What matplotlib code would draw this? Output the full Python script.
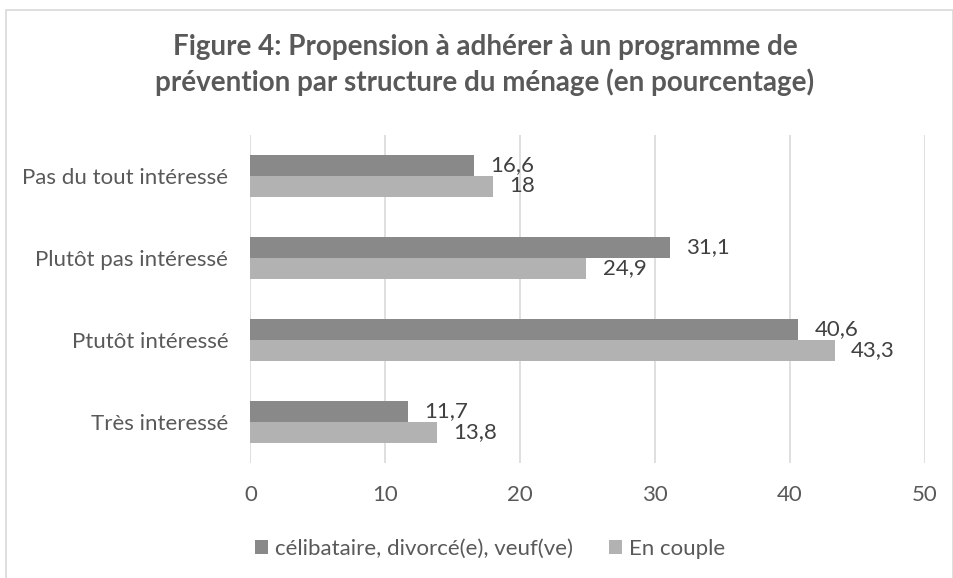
import matplotlib
matplotlib.use("Agg")
import matplotlib.pyplot as plt
import numpy as np
from matplotlib.patches import Rectangle

categories = ["Très interessé", "Ptutôt intéressé", "Plutôt pas intéressé", "Pas du tout intéressé"]
series_names = ["célibataire, divorcé(e), veuf(ve)", "En couple"]
celib = [11.7, 40.6, 31.1, 16.6]
couple = [13.8, 43.3, 24.9, 18]
celib_labels = ["11,7", "40,6", "31,1", "16,6"]
couple_labels = ["13,8", "43,3", "24,9", "18"]
xticks = [0, 10, 20, 30, 40, 50]

plt.rcParams['font.family'] = ['Lato', 'DejaVu Sans']

W, H = 954, 578
fig = plt.figure(figsize=(W/100, H/100), dpi=100)
fig.patches.append(Rectangle((6/W, -0.01), 947/W, 1.01 - 10/H, transform=fig.transFigure,
                             fill=False, edgecolor='#d9d9d9', linewidth=1.2))
ax = fig.add_axes([250.5/W, 1 - 463/H, 674.5/W, 328/H])

y = np.arange(len(categories))
h = 0.256
c1, c2 = '#898989', '#b2b2b2'
ax.barh(y + h/2, celib, height=h, color=c1, label=series_names[0], zorder=3)
ax.barh(y - h/2, couple, height=h, color=c2, label=series_names[1], zorder=3)

for yi, v, t in zip(y, celib, celib_labels):
    ax.text(v + 1.2, yi + h/2, t, va='center', ha='left', fontsize=16, color='#404040')
for yi, v, t in zip(y, couple, couple_labels):
    ax.text(v + 1.2, yi - h/2, t, va='center', ha='left', fontsize=16, color='#404040')

ax.set_xlim(0, 50)
ax.set_ylim(-0.5, len(categories) - 0.5)
ax.set_xticks(xticks)
ax.set_xticklabels([str(t) for t in xticks])
ax.set_yticks(y)
ax.set_yticklabels(categories)
ax.tick_params(axis='both', length=0, labelsize=16, colors='#595959')
ax.tick_params(axis='x', pad=16)
ax.tick_params(axis='y', pad=16)
ax.grid(axis='x', color='#d9d9d9', linewidth=1.2, zorder=0)
for s in ax.spines.values():
    s.set_visible(False)

fig.text(485/W, 1 - 65/H, "Figure 4: Propension à adhérer à un programme de\nprévention par structure du ménage (en pourcentage)",
         ha='center', va='center', fontsize=20, fontweight='bold', color='#595959', linespacing=1.38)

fig.legend(loc='center', bbox_to_anchor=(490/W, 1 - 549/H), ncol=2, frameon=False,
           fontsize=16, labelcolor='#595959', handlelength=0.6, handleheight=0.6,
           handletextpad=0.3, columnspacing=1.6)

fig.savefig("out.png", dpi=100)
